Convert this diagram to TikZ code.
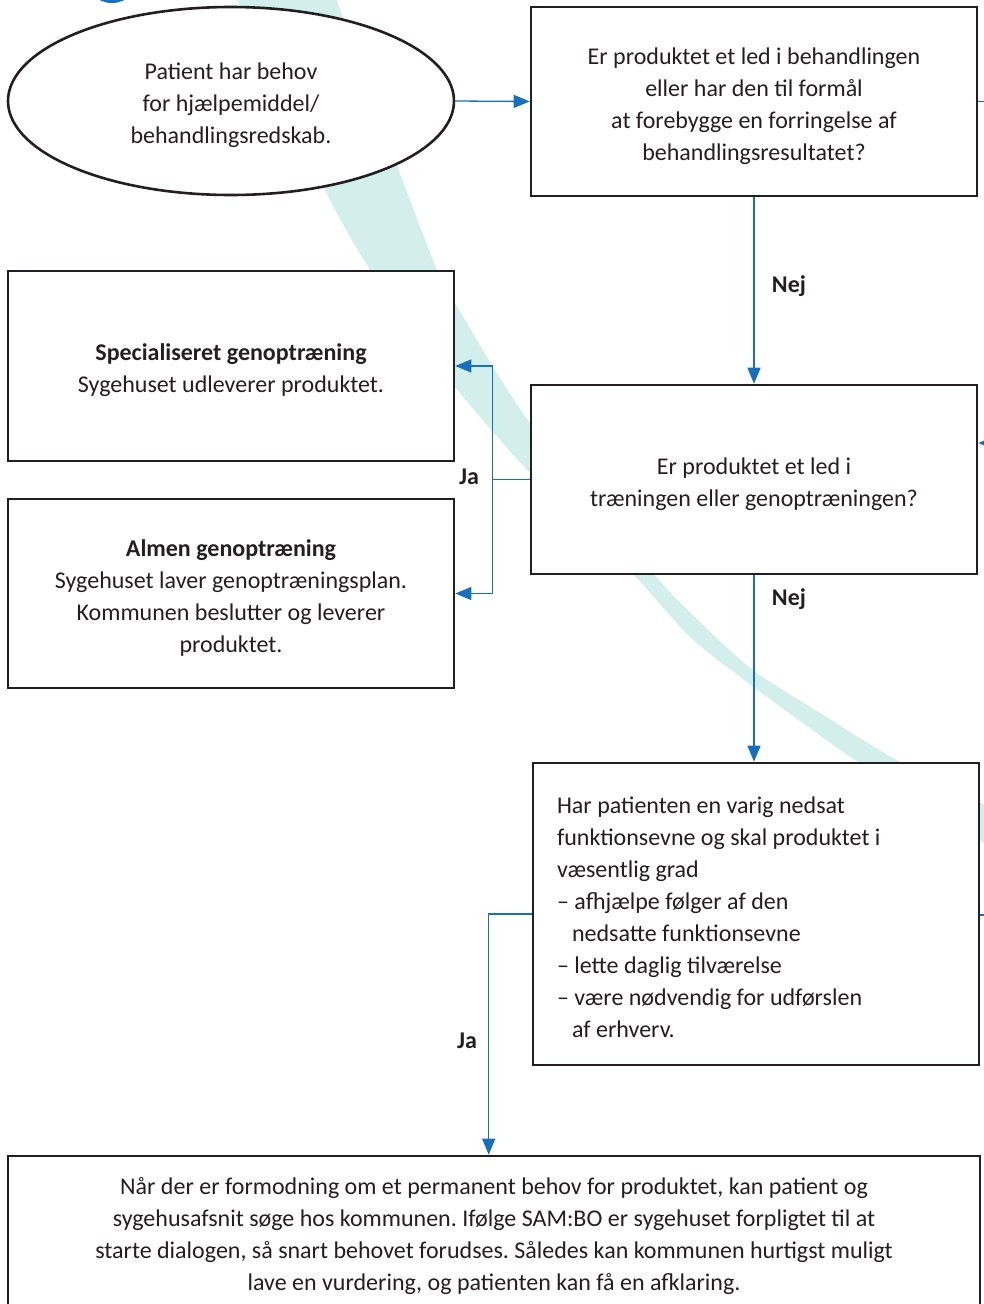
\documentclass[tikz,border=0pt]{standalone}
\usepackage{fontspec}
\setmainfont{Carlito}
\usetikzlibrary{shapes.geometric,arrows.meta}
\definecolor{tealbg}{HTML}{D3EFEC}
\definecolor{arrblue}{HTML}{1670BE}
\definecolor{ink}{HTML}{231F20}
\newcommand{\fsz}{\fontsize{24}{32}\selectfont\frenchspacing}
\begin{document}
\begin{tikzpicture}[x=1pt,y=-1pt,
  box/.style={draw=ink,line width=2.6pt,fill=white,inner sep=0pt,text=ink,align=flush center,font=\fsz,minimum width=446pt,minimum height=189pt,text width=430pt,tshift=26pt},
  tshift/.style={execute at begin node={\rule{0pt}{#1}}},
  bshift/.style={execute at end node={\rule[-#1]{0pt}{0pt}}},
  conn/.style={draw=arrblue,line width=1.3pt},
  arr/.style={conn,-{Triangle[length=16pt,width=13pt]}},
  lbl/.style={text=ink,font=\fsz\bfseries}]
\useasboundingbox (0,0) rectangle (984,1304);
\fill[tealbg] plot[smooth,tension=0.5] coordinates {(335,-5) (380,120) (437,270) (455,303) (530,423) (653,573) (700,622) (753,670) (820,713) (900,762) (995,810)}
  -- plot[smooth,tension=0.5] coordinates {(995,850) (858,762) (800,721) (747,682) (690,637) (632,573) (530,473) (455,387) (400,315) (350,237) (310,160) (275,85) (235,-5)} -- cycle;
\begin{scope}
\clip (0,0) rectangle (984,1304);
\fill[arrblue] (112,-25) circle[radius=28pt];
\end{scope}

\node[box,ellipse,minimum height=188pt,text width=215pt] (start) at (231,101) {Patient har behov\\for hjælpemiddel/\\behandlingsredskab.};
\node[box] (q1) at (754,101.5) {Er produktet et led i behandlingen\\eller har den til formål\\at forebygge en forringelse af\\behandlingsresultatet?};
\node[box] (q2) at (754,479.5) {Er produktet et led i\\træningen eller genoptræningen?};
\node[box,minimum height=190pt] (sp) at (231,366) {\textbf{Specialiseret genoptræning}\\Sygehuset udleverer produktet.};
\node[box] (al) at (231,593.5) {\textbf{Almen genoptræning}\\Sygehuset laver genoptræningsplan.\\Kommunen beslutter og leverer\\produktet.};
\node[box,minimum height=302pt,text width=398pt,inner xsep=24pt,align=flush left,tshift=0pt,bshift=4pt] (q3) at (756,914) {Har patienten en varig nedsat\\funktionsevne og skal produktet i\\væsentlig grad\\– afhjælpe følger af den\\\hspace*{15pt}nedsatte funktionsevne\\– lette daglig tilværelse\\– være nødvendig for udførslen\\\hspace*{15pt}af erhverv.};
\node[box,minimum width=972pt,minimum height=156pt,text width=960pt,tshift=22pt,bshift=10pt] (fin) at (494,1234) {Når der er formodning om et permanent behov for produktet, kan patient og\\sygehusafsnit søge hos kommunen. Ifølge SAM:BO er sygehuset forpligtet til at\\starte dialogen, så snart behovet forudses. Således kan kommunen hurtigst muligt\\lave en vurdering, og patienten kan få en afklaring.};

\draw[arr] (start.east) -- (q1.west);
\draw[arr] (q1.south) -- (q2.north);
\node[lbl] (nej1) at (789,286) {Nej};
\coordinate (j1) at ([xshift=-37pt]q2.west);
\draw[conn] (q2.west) -- (j1);
\draw[arr] (j1) |- (sp.east);
\draw[arr] (j1) |- (al.east);
\node[lbl] (ja1) at (469,477) {Ja};
\draw[arr] (q2.south) -- (q2.south |- q3.north);
\node[lbl] (nej2) at (789,599) {Nej};
\coordinate (j2) at ([xshift=-43pt]q3.west);
\draw[arr] (q3.west) -- (j2) -- (j2 |- fin.north);
\node[lbl] (ja2) at (467,1041) {Ja};
\coordinate (r1) at (995,101.5);
\draw[conn] (q1.east) -- (r1);
\coordinate (r2) at (1001,443);
\draw[arr] (r2) -- (r2 -| q2.east);
\coordinate (r3) at (995,915);
\draw[conn] (q3.east |- r3) -- (r3);
\end{tikzpicture}
\end{document}
